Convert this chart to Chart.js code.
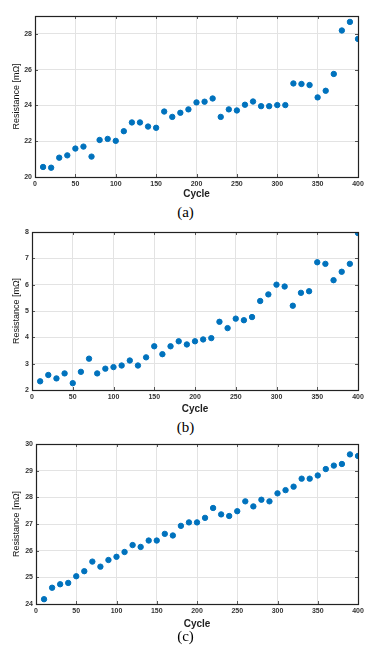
<!DOCTYPE html>
<html>
<head>
<meta charset="utf-8">
<script src="https://cdn.jsdelivr.net/npm/chart.js@4"></script>
<style>
  body{margin:0;background:#fff;width:371px;height:652px;position:relative;overflow:hidden}
  .box{position:absolute;left:0;width:371px;height:200px}
  .cap{position:absolute;left:0;width:371px;text-align:center;font-family:"Liberation Serif",serif;font-size:15px;color:#000}
</style>
</head>
<body>
<div class="box" style="top:0"><canvas id="chartA"></canvas></div>
<div class="cap" style="top:204px">(a)</div>
<div class="box" style="top:215px"><canvas id="chartB"></canvas></div>
<div class="cap" style="top:419px">(b)</div>
<div class="box" style="top:430px"><canvas id="chartC"></canvas></div>
<div class="cap" style="top:628px">(c)</div>
<script>
const cycles = [10,20,30,40,50,60,70,80,90,100,110,120,130,140,150,160,170,180,190,200,
                210,220,230,240,250,260,270,280,290,300,310,320,330,340,350,360,370,380,390,400];

const resA = [20.56,20.52,21.08,21.21,21.59,21.70,21.14,22.07,22.13,22.02,
              22.56,23.05,23.05,22.82,22.75,23.66,23.36,23.59,23.78,24.17,
              24.21,24.39,23.36,23.78,23.72,24.04,24.22,23.96,23.96,24.02,
              24.02,25.23,25.20,25.14,24.45,24.82,25.76,28.19,28.67,27.72];

const resB = [2.33,2.57,2.44,2.63,2.26,2.69,3.19,2.63,2.81,2.87,
              2.93,3.12,2.93,3.24,3.66,3.36,3.66,3.85,3.73,3.85,
              3.92,3.97,4.59,4.35,4.71,4.65,4.77,5.38,5.63,6.00,
              5.93,5.20,5.69,5.75,6.85,6.79,6.17,6.49,6.79,7.96];

const resC = [24.18,24.61,24.74,24.79,25.04,25.23,25.59,25.40,25.65,25.77,
              25.95,26.21,26.14,26.38,26.38,26.63,26.57,26.93,27.06,27.06,
              27.23,27.60,27.36,27.30,27.48,27.85,27.66,27.91,27.85,28.15,
              28.27,28.40,28.70,28.70,28.82,29.06,29.19,29.25,29.61,29.55];

const xTicks = [0,50,100,150,200,250,300,350,400];
const yTicksA = [20,22,24,26,28];
const yTicksB = [2,3,4,5,6,7,8];
const yTicksC = [24,25,26,27,28,29,30];

// MATLAB style box + inward tick marks
const boxPlugin = {
  id:'box',
  afterDraw(chart){
    const {ctx, chartArea:a, scales} = chart;
    ctx.save();
    ctx.strokeStyle = '#555'; ctx.lineWidth = 1;
    scales.x.ticks.forEach(t=>{
      const px = Math.round(scales.x.getPixelForValue(t.value))+0.5;
      ctx.beginPath(); ctx.moveTo(px,a.bottom); ctx.lineTo(px,a.bottom-3);
      ctx.moveTo(px,a.top); ctx.lineTo(px,a.top+3); ctx.stroke();
    });
    scales.y.ticks.forEach(t=>{
      const py = Math.round(scales.y.getPixelForValue(t.value))+0.5;
      ctx.beginPath(); ctx.moveTo(a.left,py); ctx.lineTo(a.left+3,py);
      ctx.moveTo(a.right,py); ctx.lineTo(a.right-3,py); ctx.stroke();
    });
    ctx.strokeStyle = '#222'; ctx.lineWidth = 1.2;
    ctx.strokeRect(Math.round(a.left)+0.5, Math.round(a.top)+0.5,
                   Math.round(a.right-a.left), Math.round(a.bottom-a.top));
    ctx.restore();
  }
};

function makeChart(id, values, yMin, yMax, yTicks, geo){
  new Chart(document.getElementById(id), {
    type:'scatter',
    data:{ datasets:[{ data: cycles.map((c,i)=>({x:c, y:values[i]})),
      backgroundColor:'#0072BD', borderColor:'#0072BD', pointRadius:2.7, pointHoverRadius:2.7 }] },
    options:{
      responsive:true, maintainAspectRatio:false, animation:false,
      layout:{ padding:{ top:geo.top, right:geo.right, left:0, bottom:0 } },
      plugins:{ legend:{display:false}, tooltip:{enabled:false} },
      scales:{
        x:{ type:'linear', min:0, max:400,
          afterBuildTicks:s=>{ s.ticks = xTicks.map(v=>({value:v})); },
          afterFit:s=>{ s.height = geo.xh; },
          grid:{ color:'#e3e3e3', lineWidth:1, tickLength:0, drawTicks:false },
          border:{ display:false },
          ticks:{ color:'#333', font:{family:'Arial, "Liberation Sans", sans-serif', size:7, weight:'bold'}, padding:3, maxRotation:0 },
          title:{ display:true, text:'Cycle', color:'#222',
            font:{family:'Arial, "Liberation Sans", sans-serif', size:10, weight:'bold'}, padding:{top:0,bottom:0} } },
        y:{ type:'linear', min:yMin, max:yMax,
          afterBuildTicks:s=>{ s.ticks = yTicks.map(v=>({value:v})); },
          afterFit:s=>{ s.width = geo.left; },
          grid:{ color:'#e3e3e3', lineWidth:1, tickLength:0, drawTicks:false },
          border:{ display:false },
          ticks:{ color:'#333', font:{family:'Arial, "Liberation Sans", sans-serif', size:7, weight:'bold'}, padding:3 },
          title:{ display:true, text:'Resistance [mΩ]', color:'#111',
            font:{family:'Arial, "Liberation Sans", sans-serif', size:9}, padding:{top:11,bottom:0} } }
      }
    },
    plugins:[boxPlugin]
  });
}

makeChart('chartA', resA, 20, 29, yTicksA, {top:16, right:13, left:35, xh:23});
makeChart('chartB', resB, 2, 8, yTicksB, {top:17, right:13, left:32, xh:25});
makeChart('chartC', resC, 24, 30, yTicksC, {top:14, right:13, left:36, xh:26});
</script>
</body>
</html>
